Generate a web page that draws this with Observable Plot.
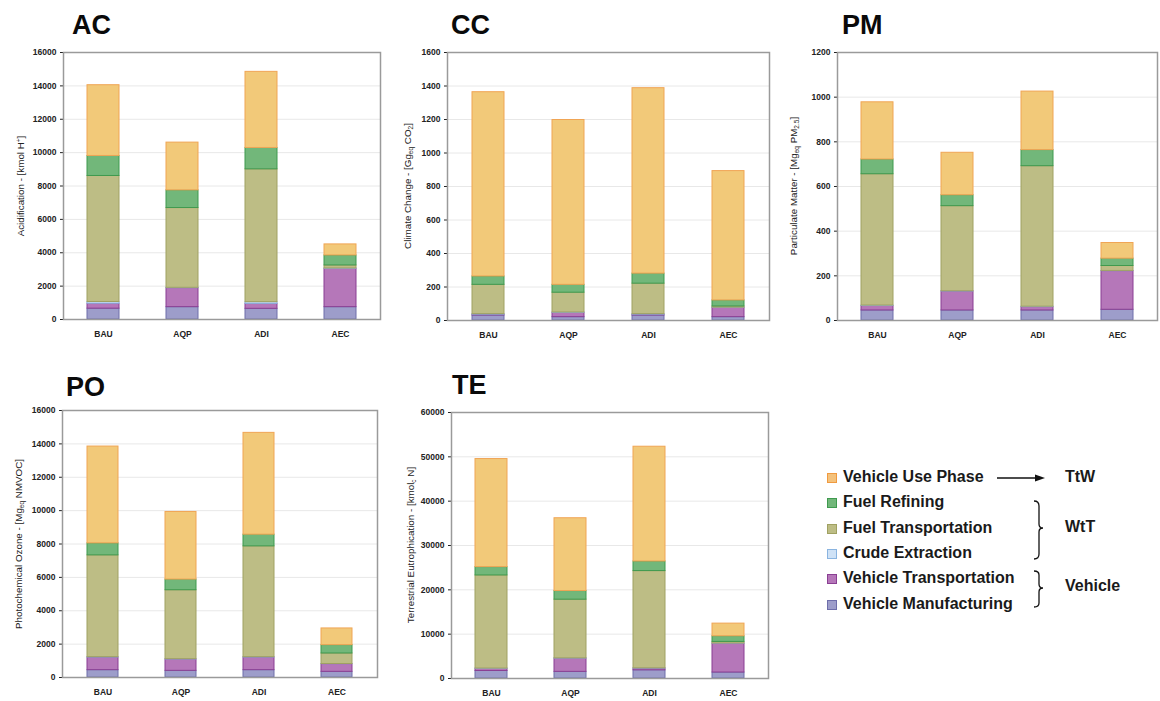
<!DOCTYPE html>
<html>
<head>
<meta charset="utf-8">
<script src="https://cdn.jsdelivr.net/npm/d3@7"></script>
<script src="https://cdn.jsdelivr.net/npm/@observablehq/plot@0.6"></script>
<style>
  html, body { margin: 0; padding: 0; background: #fff; }
  body { width: 1160px; height: 701px; position: relative; overflow: hidden;
         font-family: "Liberation Sans", Arial, Helvetica, sans-serif; color: #111; }
  .panel { position: absolute; }
  .title { position: absolute; font-size: 27px; font-weight: bold; line-height: 1; color: #0a0a0a; }
  .ylab { position: absolute; font-size: 9.8px; white-space: nowrap; color: #222;
          transform: translate(-50%, -50%) rotate(-90deg); }
  .ylab sub { font-size: 6.5px; vertical-align: -1.5px; }
  .ylab sup { font-size: 6.5px; vertical-align: 3px; }
  .leg { position: absolute; font-size: 16px; font-weight: bold; color: #1a1a1a; white-space: nowrap; }
  .sw { position: absolute; width: 8px; height: 8px; border: 1.2px solid; }
</style>
</head>
<body>
<script>
// ---------- DATA ----------
const scenarios = ["BAU", "AQP", "ADI", "AEC"];
// stacking order, bottom to top
const series = ["Vehicle Manufacturing", "Vehicle Transportation", "Crude Extraction",
                "Fuel Transportation", "Fuel Refining", "Vehicle Use Phase"];
const fills   = ["#9d9dca", "#b577b9", "#cfe2f6", "#bdbd85", "#72b77a", "#f2c979"];
const strokes = ["#6e6eaa", "#8a3f93", "#8ab4e0", "#a0a162", "#3f9a4f", "#f0a555"];

// values per scenario: [VM, VT, CE, FT, FR, VU]
const acValues = [[650, 300, 100, 7550, 1200, 4240],
                  [740, 1140, 20, 4780, 1060, 2860],
                  [640, 300, 100, 7960, 1280, 4560],
                  [740, 2300, 20, 180, 600, 660]];
const ccValues = [[30, 5, 3, 175, 50, 1100],
                  [20, 26, 2, 118, 47, 984],
                  [30, 5, 3, 182, 60, 1107],
                  [20, 56, 1, 7, 36, 772]];
const pmValues = [[45, 20, 2, 588, 66, 256],
                  [45, 85, 1, 381, 49, 190],
                  [45, 15, 2, 629, 72, 262],
                  [48, 173, 1, 22, 33, 70]];
const poValues = [[440, 760, 20, 6100, 720, 5800],
                  [400, 680, 20, 4130, 640, 4050],
                  [440, 760, 20, 6640, 700, 6100],
                  [340, 460, 10, 630, 500, 1000]];
const teValues = [[1700, 500, 50, 21000, 1880, 24370],
                  [1500, 3000, 50, 13230, 1950, 16420],
                  [1850, 400, 50, 21930, 2170, 25880],
                  [1350, 6530, 20, 350, 1280, 2850]];

const acTicks = [0, 2000, 4000, 6000, 8000, 10000, 12000, 14000, 16000];
const ccTicks = [0, 200, 400, 600, 800, 1000, 1200, 1400, 1600];
const pmTicks = [0, 200, 400, 600, 800, 1000, 1200];
const poTicks = [0, 2000, 4000, 6000, 8000, 10000, 12000, 14000, 16000];
const teTicks = [0, 10000, 20000, 30000, 40000, 50000, 60000];

// ---------- DRAWING ----------
const fillOf = Object.fromEntries(series.map((s, i) => [s, fills[i]]));
const strokeOf = Object.fromEntries(series.map((s, i) => [s, strokes[i]]));

function rows(values) {
  const out = [];
  values.forEach((vals, si) => vals.forEach((v, k) =>
    out.push({scenario: scenarios[si], series: series[k], value: v})));
  return out;
}

function panel(cfg) {
  const data = rows(cfg.values);
  const chart = Plot.plot({
    width: cfg.w, height: cfg.h,
    marginLeft: cfg.ml, marginRight: cfg.mr, marginTop: cfg.mt, marginBottom: cfg.mb,
    style: {fontFamily: "'Liberation Sans', Arial, sans-serif", fontSize: "8.5px", fontWeight: "bold", color: "#222", background: "transparent"},
    x: {domain: scenarios, paddingInner: 0.6, paddingOuter: 0.3, label: null, tickSize: 0, tickPadding: 11},
    y: {domain: [cfg.ticks[0], cfg.ticks[cfg.ticks.length - 1]], ticks: cfg.ticks,
        tickFormat: d => String(d), label: null, tickSize: 3, tickPadding: 4},
    color: {type: "identity"},
    marks: [
      Plot.gridY(cfg.ticks, {stroke: "#e8e8e8", strokeOpacity: 1, strokeWidth: 1}),
      Plot.barY(data, {x: "scenario", y: "value",
        fill: d => fillOf[d.series], stroke: d => strokeOf[d.series], strokeWidth: 1}),
      Plot.frame({stroke: "#9a9a9a", strokeWidth: 1.5})
    ]
  });
  chart.classList.add("panel");
  chart.style.left = cfg.x + "px";
  chart.style.top = cfg.y + "px";
  document.body.appendChild(chart);

  const t = document.createElement("div");
  t.className = "title";
  t.textContent = cfg.title;
  t.style.left = cfg.tx + "px";
  t.style.top = cfg.ty + "px";
  document.body.appendChild(t);

  const yl = document.createElement("div");
  yl.className = "ylab";
  yl.innerHTML = cfg.ylabel;
  yl.style.left = cfg.lx + "px";
  yl.style.top = (cfg.y + cfg.mt + (cfg.h - cfg.mt - cfg.mb) / 2) + "px";
  document.body.appendChild(yl);
}

panel({title: "AC", values: acValues, ticks: acTicks, x: 0, y: 40, w: 390, h: 310,
       ml: 63, mr: 10, mt: 12, mb: 31, tx: 72, ty: 12, lx: 20,
       ylabel: "Acidification - [kmol H<sup>+</sup>]"});
panel({title: "CC", values: ccValues, ticks: ccTicks, x: 390, y: 40, w: 390, h: 310,
       ml: 57, mr: 11, mt: 12, mb: 30, tx: 451, ty: 12, lx: 408,
       ylabel: "Climate Change - [Gg<sub>eq</sub> CO<sub>2</sub>]"});
panel({title: "PM", values: pmValues, ticks: pmTicks, x: 780, y: 40, w: 380, h: 310,
       ml: 57, mr: 3, mt: 12, mb: 30, tx: 842, ty: 12, lx: 794,
       ylabel: "Particulate Matter - [Mg<sub>eq</sub> PM<sub>2.5</sub>]"});
panel({title: "PO", values: poValues, ticks: poTicks, x: 0, y: 395, w: 390, h: 306,
       ml: 62, mr: 13, mt: 15, mb: 24, tx: 66, ty: 374, lx: 19,
       ylabel: "Photochemical Ozone - [Mg<sub>eq</sub> NMVOC]"});
panel({title: "TE", values: teValues, ticks: teTicks, x: 390, y: 395, w: 390, h: 306,
       ml: 61, mr: 12, mt: 17, mb: 23, tx: 452, ty: 372, lx: 411,
       ylabel: "Terrestrial Eutrophication - [kmol<sub>c</sub> N]"});

// ---------- LEGEND ----------
const legendOrder = ["Vehicle Use Phase", "Fuel Refining", "Fuel Transportation",
                     "Crude Extraction", "Vehicle Transportation", "Vehicle Manufacturing"];
const legendSwatch = {"Vehicle Use Phase": ["#f4c27c", "#f09a40"]};
legendOrder.forEach((s, i) => {
  const cy = 478 + i * 25.3;
  const sw = document.createElement("div");
  sw.className = "sw";
  const c = legendSwatch[s] || [fillOf[s], strokeOf[s]];
  sw.style.background = c[0];
  sw.style.borderColor = c[1];
  sw.style.left = "827px";
  sw.style.top = (cy - 5) + "px";
  document.body.appendChild(sw);
  const tx = document.createElement("div");
  tx.className = "leg";
  tx.textContent = s;
  tx.style.left = "843px";
  tx.style.top = (cy - 10) + "px";
  document.body.appendChild(tx);
});
[["TtW", 478], ["WtT", 528], ["Vehicle", 587]].forEach(([s, cy]) => {
  const tx = document.createElement("div");
  tx.className = "leg";
  tx.textContent = s;
  tx.style.left = "1065px";
  tx.style.top = (cy - 10) + "px";
  document.body.appendChild(tx);
});
// arrow and braces
const ns = "http://www.w3.org/2000/svg";
const deco = document.createElementNS(ns, "svg");
deco.setAttribute("width", 1160); deco.setAttribute("height", 701);
deco.style.position = "absolute"; deco.style.left = "0"; deco.style.top = "0";
deco.style.pointerEvents = "none";
deco.innerHTML = `
  <line x1="997" y1="478" x2="1037" y2="478" stroke="#111" stroke-width="1.3"/>
  <path d="M1045,478 L1035,474.5 L1035,481.5 Z" fill="#111"/>
  <path d="M1034,501 q5,0 5,5 v18 q0,4 4,4 q-4,0 -4,4 v22 q0,5 -5,5" fill="none" stroke="#111" stroke-width="1.3"/>
  <path d="M1034,571 q5,0 5,4 v9 q0,4 4,4 q-4,0 -4,4 v11 q0,4 -5,4" fill="none" stroke="#111" stroke-width="1.3"/>
`;
document.body.appendChild(deco);
</script>
</body>
</html>
